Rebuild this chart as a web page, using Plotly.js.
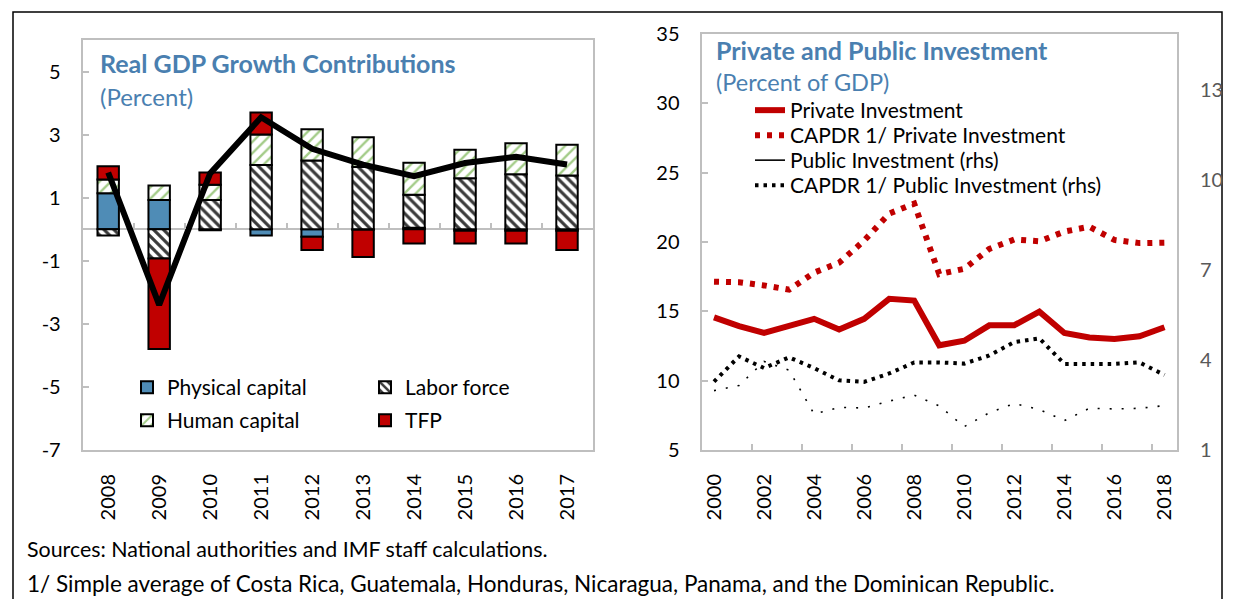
<!DOCTYPE html>
<html>
<head>
<meta charset="utf-8">
<script src="https://cdn.plot.ly/plotly-3.0.1.min.js"></script>
<style>html,body{margin:0;padding:0;background:#fff;}#chart{width:1236px;height:599px;}</style>
</head>
<body>
<div id="chart"></div>
<script>
// ---- Left panel: Real GDP growth contributions (percent) ----
var years = [2008, 2009, 2010, 2011, 2012, 2013, 2014, 2015, 2016, 2017];
var physicalCapital = [1.14, 0.93, -0.03, -0.20, -0.24, -0.02, 0.05, -0.05, -0.05, -0.05];
var laborForce      = [-0.20, -0.93, 0.93, 2.04, 2.18, 1.97, 1.04, 1.62, 1.74, 1.70];
var humanCapital    = [0.44, 0.46, 0.48, 0.96, 0.99, 0.95, 1.02, 0.90, 0.99, 0.98];
var tfp             = [0.42, -2.87, 0.39, 0.70, -0.42, -0.86, -0.45, -0.40, -0.40, -0.61];
var gdpGrowth       = [1.80, -2.40, 1.77, 3.55, 2.55, 2.05, 1.68, 2.10, 2.30, 2.05];
var leftYTicks      = [-7, -5, -3, -1, 1, 3, 5];

// ---- Right panel: private and public investment (percent of GDP) ----
var invYears = [2000, 2001, 2002, 2003, 2004, 2005, 2006, 2007, 2008, 2009,
                2010, 2011, 2012, 2013, 2014, 2015, 2016, 2017, 2018];
var privateInv      = [14.57, 13.93, 13.44, 13.93, 14.46, 13.69, 14.46, 15.90, 15.78, 12.55,
                       12.88, 13.99, 14.00, 14.98, 13.44, 13.12, 13.00, 13.20, 13.85];
var capdrPrivateInv = [17.14, 17.10, 16.87, 16.56, 17.79, 18.51, 20.10, 22.05, 22.77, 17.68,
                       18.07, 19.50, 20.18, 20.05, 20.75, 21.10, 20.15, 19.92, 19.95];
var publicInv       = [2.98, 3.15, 3.95, 3.66, 2.20, 2.42, 2.40, 2.63, 2.83, 2.47,
                       1.78, 2.24, 2.55, 2.35, 1.98, 2.39, 2.37, 2.39, 2.48];
var capdrPublicInv  = [3.28, 4.12, 3.73, 4.09, 3.73, 3.32, 3.27, 3.55, 3.92, 3.92,
                       3.88, 4.15, 4.60, 4.72, 3.87, 3.87, 3.87, 3.92, 3.50];

var W = 1236, H = 599;
function px(v) { return v / W; }
function py(v) { return 1 - v / H; }

var FONT = 'Lato, "Open Sans", sans-serif';
var GRID = '#bfbfbf';
var TITLE_BLUE = '#4a7fb0';

var barLine = {color: '#000000', width: 2};
var barW = 0.42;

var traces = [
  {type: 'bar', name: 'Physical capital', x: years, y: physicalCapital, width: barW,
   marker: {color: '#4f8cb6', line: barLine}, legend: 'legend', xaxis: 'x', yaxis: 'y', hoverinfo: 'skip'},
  {type: 'bar', name: 'Labor force', x: years, y: laborForce, width: barW,
   marker: {color: '#ffffff', line: barLine,
            pattern: {shape: '\\', fgcolor: '#3a3a3a', bgcolor: '#ffffff', size: 7, solidity: 0.45}},
   legend: 'legend', xaxis: 'x', yaxis: 'y', hoverinfo: 'skip'},
  {type: 'bar', name: 'Human capital', x: years, y: humanCapital, width: barW,
   marker: {color: '#ffffff', line: barLine,
            pattern: {shape: '/', fgcolor: '#a3cc88', bgcolor: '#ffffff', size: 8, solidity: 0.3}},
   legend: 'legend2', xaxis: 'x', yaxis: 'y', hoverinfo: 'skip'},
  {type: 'bar', name: 'TFP', x: years, y: tfp, width: barW,
   marker: {color: '#c00000', line: barLine}, legend: 'legend2', xaxis: 'x', yaxis: 'y', hoverinfo: 'skip'},
  {type: 'scatter', mode: 'lines', name: 'Real GDP growth', x: years, y: gdpGrowth,
   line: {color: '#000000', width: 6}, showlegend: false, xaxis: 'x', yaxis: 'y', hoverinfo: 'skip'},
  // carrier for the zero-line tick axis
  {type: 'scatter', mode: 'lines', x: [], y: [], xaxis: 'x2', yaxis: 'y', showlegend: false, hoverinfo: 'skip'},

  // right panel
  {type: 'scatter', mode: 'lines', name: 'Private Investment', x: invYears, y: privateInv,
   line: {color: '#c00000', width: 6}, legend: 'legend3', xaxis: 'x3', yaxis: 'y3', hoverinfo: 'skip'},
  {type: 'scatter', mode: 'lines', name: 'CAPDR 1/ Private Investment', x: invYears, y: capdrPrivateInv,
   line: {color: '#c00000', width: 6, dash: '5px,7px'}, legend: 'legend4', xaxis: 'x3', yaxis: 'y3', hoverinfo: 'skip'},
  {type: 'scatter', mode: 'lines', name: 'Public Investment (rhs)', x: invYears, y: publicInv,
   line: {color: '#000000', width: 1.6, dash: '2px,10px'}, showlegend: false, xaxis: 'x3', yaxis: 'y4', hoverinfo: 'skip'},
  {type: 'scatter', mode: 'lines', name: 'Public Investment (rhs)', x: [null], y: [null],
   line: {color: '#000000', width: 1.6}, legend: 'legend5', xaxis: 'x3', yaxis: 'y4', hoverinfo: 'skip'},
  {type: 'scatter', mode: 'lines', name: 'CAPDR 1/ Public Investment (rhs)', x: invYears, y: capdrPublicInv,
   line: {color: '#000000', width: 4, dash: '3.5px,5px'}, legend: 'legend6', xaxis: 'x3', yaxis: 'y4', hoverinfo: 'skip'},
  {type: 'scatter', mode: 'lines', x: [], y: [], xaxis: 'x4', yaxis: 'y3', showlegend: false, hoverinfo: 'skip'}
];

var tickFont = {family: FONT, size: 20, color: '#000000'};
var legFont = {family: FONT, size: 21, color: '#000000'};

function leg(xp, ytop, horiz) {
  var o = {x: px(xp), y: py(ytop), xanchor: 'left', yanchor: 'top', font: legFont,
           bgcolor: 'rgba(0,0,0,0)', traceorder: 'normal', itemclick: false, itemdoubleclick: false};
  if (horiz) { o.orientation = 'h'; o.entrywidth = 193; o.entrywidthmode = 'pixels'; }
  return o;
}

var layout = {
  width: W, height: H,
  margin: {l: 0, r: 0, t: 0, b: 0},
  paper_bgcolor: '#ffffff', plot_bgcolor: '#ffffff',
  font: {family: FONT, color: '#000000'},
  barmode: 'relative',
  bargap: 0,
  xaxis: {domain: [px(82.7), px(592.5)], anchor: 'y', range: [years[0] - 0.5, years[years.length - 1] + 0.5],
          tickmode: 'linear', tick0: years[0], dtick: 1, tickangle: -90, ticks: '',
          tickfont: tickFont, ticklabelstandoff: 14,
          showline: true, mirror: true, linecolor: GRID, linewidth: 2, showgrid: false, zeroline: false},
  xaxis2: {overlaying: 'x', matches: 'x', anchor: 'free', position: py(228.5), side: 'bottom',
           tickmode: 'linear', tick0: years[0] - 0.5, dtick: 1, ticks: 'inside', ticklen: 6, tickwidth: 2,
           tickcolor: GRID, showticklabels: false, showline: false, showgrid: false, zeroline: false},
  yaxis: {domain: [py(450), py(40)], anchor: 'x', range: [-7, 6],
          tickmode: 'array', tickvals: leftYTicks, ticktext: leftYTicks.map(String),
          ticks: 'inside', ticklen: 6, tickwidth: 2, tickcolor: GRID, tickfont: tickFont, ticklabelstandoff: 16,
          showline: true, mirror: true, linecolor: GRID, linewidth: 2, showgrid: false,
          zeroline: true, zerolinecolor: GRID, zerolinewidth: 2},

  xaxis3: {domain: [px(701.5), px(1177)], anchor: 'y3', range: [invYears[0] - 0.5, invYears[invYears.length - 1] + 0.5],
           tickmode: 'linear', tick0: invYears[0], dtick: 2, tickangle: -90, ticks: '',
           tickfont: tickFont, ticklabelstandoff: 14,
           showline: true, mirror: true, linecolor: GRID, linewidth: 2, showgrid: false, zeroline: false},
  xaxis4: {overlaying: 'x3', matches: 'x3', anchor: 'y3', side: 'bottom',
           tickmode: 'linear', tick0: invYears[0] - 0.5, dtick: 2, ticks: 'inside', ticklen: 6, tickwidth: 2,
           tickcolor: GRID, showticklabels: false, showline: false, showgrid: false, zeroline: false},
  yaxis3: {domain: [py(450), py(34)], anchor: 'x3', range: [5, 35], tickmode: 'linear', tick0: 5, dtick: 5,
           ticks: 'inside', ticklen: 6, tickwidth: 2, tickcolor: GRID, tickfont: tickFont, ticklabelstandoff: 16,
           showline: true, mirror: true, linecolor: GRID, linewidth: 2, showgrid: false, zeroline: false},
  yaxis4: {overlaying: 'y3', anchor: 'x3', side: 'right', range: [1, 1 + 30 * 30 / 64.9], tickmode: 'linear', tick0: 1, dtick: 3,
           ticks: '', tickfont: {family: FONT, size: 20, color: '#595959'}, ticklabelstandoff: 22,
           showline: false, showgrid: false, zeroline: false},

  legend: leg(127, 367, true),
  legend2: leg(127, 400, true),
  legend3: leg(750, 90, false),
  legend4: leg(750, 115, false),
  legend5: leg(750, 140, false),
  legend6: leg(750, 165, false),

  annotations: [
    {text: '<b>Real GDP Growth Contributions</b>', xref: 'paper', yref: 'paper', x: px(98), y: py(63),
     xanchor: 'left', yanchor: 'middle', showarrow: false, font: {family: FONT, size: 25, color: TITLE_BLUE}},
    {text: '(Percent)', xref: 'paper', yref: 'paper', x: px(98), y: py(96),
     xanchor: 'left', yanchor: 'middle', showarrow: false, font: {family: FONT, size: 24, color: TITLE_BLUE}},
    {text: '<b>Private and Public Investment</b>', xref: 'paper', yref: 'paper', x: px(714), y: py(50),
     xanchor: 'left', yanchor: 'middle', showarrow: false, font: {family: FONT, size: 25, color: TITLE_BLUE}},
    {text: '(Percent of GDP)', xref: 'paper', yref: 'paper', x: px(714), y: py(82),
     xanchor: 'left', yanchor: 'middle', showarrow: false, font: {family: FONT, size: 23.5, color: TITLE_BLUE}},
    {text: 'Sources: National authorities and IMF staff calculations.', xref: 'paper', yref: 'paper',
     x: px(25), y: py(549), xanchor: 'left', yanchor: 'middle', showarrow: false,
     font: {family: FONT, size: 21.4, color: '#000000'}},
    {text: '1/ Simple average of Costa Rica, Guatemala, Honduras, Nicaragua, Panama, and the Dominican Republic.',
     xref: 'paper', yref: 'paper', x: px(25), y: py(583), xanchor: 'left', yanchor: 'middle', showarrow: false,
     font: {family: FONT, size: 22.5, color: '#000000'}}
  ],
  shapes: [
    {type: 'rect', xref: 'paper', yref: 'paper', x0: px(13), x1: px(1222), y0: -0.05, y1: py(12),
     line: {color: '#000000', width: 1.5}, fillcolor: 'rgba(0,0,0,0)', layer: 'below'}
  ]
};

Plotly.newPlot('chart', traces, layout, {staticPlot: true, displayModeBar: false});
</script>
</body>
</html>
